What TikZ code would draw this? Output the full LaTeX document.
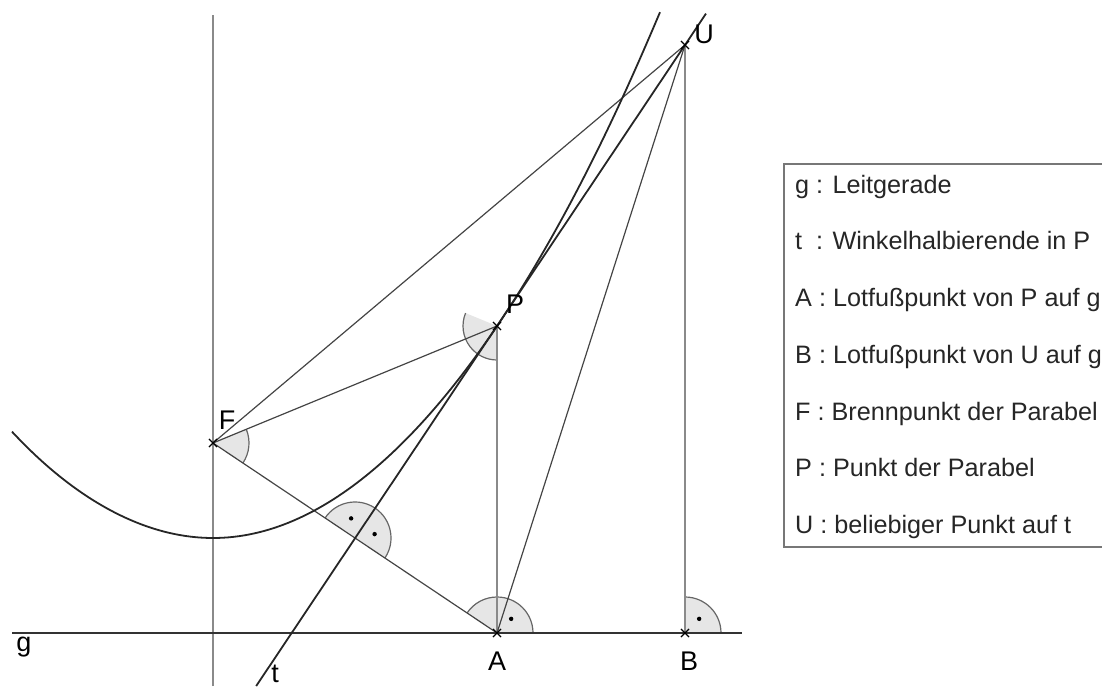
\documentclass[tikz,border=0pt]{standalone}
\usepackage{fontspec}
\setmainfont{Liberation Sans}
\usetikzlibrary{shapes.misc,calc}
\definecolor{anglefillc}{HTML}{E6E6E6}
\definecolor{angleline}{HTML}{666666}
\definecolor{constr}{HTML}{444444}
\definecolor{axisgray}{HTML}{8A8A8A}
\definecolor{boxgray}{HTML}{777777}
\tikzset{
  sector/.style={fill=anglefillc, draw=none},
  sectorarc/.style={draw=angleline, line width=1.2pt},
  rdot/.style={circle, fill=black, inner sep=0pt, minimum size=4.4pt},
  ptmark/.style={cross out, draw=black, line width=1.1pt, minimum size=7pt, inner sep=0pt},
  conline/.style={draw=constr, line width=1.2pt},
  grayline/.style={draw=axisgray, line width=1.4pt},
  mainline/.style={draw=black!85, line width=1.8pt},
  lbl/.style={font=\fontsize{27}{32}\selectfont, inner sep=0pt, anchor=base},
  legend/.style={font=\fontsize{25.2}{30}\selectfont, inner sep=0pt, anchor=base west, text=black!85},
}
\begin{document}
\begin{tikzpicture}[x=1pt,y=1pt]
\useasboundingbox (0,0) rectangle (1102,686);
\clip (0,0) rectangle (1102,686);
% points
\coordinate (F) at (213,243);
\coordinate (P) at (497,360);
\coordinate (A) at (497,53);
\coordinate (B) at (685,53);
\coordinate (U) at (685,641);
\coordinate (M) at (355,148);
\coordinate (gL) at (12,53);
\coordinate (gR) at (742,53);
\coordinate (vB) at (213,0);
\coordinate (vT) at (213,671);
\coordinate (tL) at (256.2,0);
\coordinate (tR) at (706,672.4);
% angle sectors
\fill[sector] (F) -- ++(22.39:36pt) arc[start angle=22.39, end angle=-33.79, radius=36pt] -- cycle;
\draw[sectorarc] (F) ++(22.39:36pt) arc[start angle=22.39, end angle=-33.79, radius=36pt];
\fill[sector] (P) -- ++(157.61:34pt) arc[start angle=157.61, end angle=270, radius=34pt] -- cycle;
\draw[sectorarc] (P) ++(157.61:34pt) arc[start angle=157.61, end angle=270, radius=34pt];
\fill[sector] (M) -- ++(-33.79:36pt) arc[start angle=-33.79, end angle=146.21, radius=36pt] -- cycle;
\draw[sectorarc] (M) ++(-33.79:36pt) arc[start angle=-33.79, end angle=146.21, radius=36pt];
\fill[sector] (A) -- ++(0:36pt) arc[start angle=0, end angle=146.21, radius=36pt] -- cycle;
\draw[sectorarc] (A) ++(0:36pt) arc[start angle=0, end angle=146.21, radius=36pt];
\fill[sector] (B) -- ++(0:36pt) arc[start angle=0, end angle=90, radius=36pt] -- cycle;
\draw[sectorarc] (B) ++(0:36pt) arc[start angle=0, end angle=90, radius=36pt];
\node[rdot] (dM1) at ($(M)+(101.21:20pt)$) {};
\node[rdot] (dM2) at ($(M)+(11.21:20pt)$) {};
\node[rdot] (dA) at ($(A)+(45:20pt)$) {};
\node[rdot] (dB) at ($(B)+(45:20pt)$) {};
% lines
\draw[grayline] (vB) -- (vT);
\draw[draw=black!80, line width=1.9pt] (gL) -- (gR);
\draw[grayline] (P) -- (A);
\draw[grayline] (U) -- (B);
\draw[conline] (F) -- (U);
\draw[conline] (F) -- (P);
\draw[conline] (F) -- (A);
\draw[conline] (U) -- (A);
\draw[mainline] (tL) -- (tR);
\draw[mainline] (12,254.3) parabola bend (213,148) (660,673.8);
% point markers
\node[ptmark] (mF) at (F) {};
\node[ptmark] (mP) at (P) {};
\node[ptmark] (mA) at (A) {};
\node[ptmark] (mB) at (B) {};
\node[ptmark] (mU) at (U) {};
% labels
\node[lbl] (lF) at (227,257) {F};
\node[lbl] (lP) at (515,372) {P};
\node[lbl] (lU) at (704,642) {U};
\node[lbl] (lA) at (497,16) {A};
\node[lbl] (lB) at (689,16) {B};
\node[lbl] (lg) at (24,35) {g};
\node[lbl] (lt) at (275,4) {t};
% legend
\draw[draw=boxgray, line width=1.5pt] (784,139) rectangle (1130,522);
\node[legend] (L1) at (795,492.7) {g : Leitgerade};
\node[legend] (L2) at (795,436) {t\ \ : Winkelhalbierende in P};
\node[legend] (L3) at (795,379.3) {A : Lotfußpunkt von P auf g};
\node[legend] (L4) at (795,322.7) {B : Lotfußpunkt von U auf g};
\node[legend] (L5) at (795,266) {F : Brennpunkt der Parabel};
\node[legend] (L6) at (795,209.3) {P : Punkt der Parabel};
\node[legend] (L7) at (795,152.7) {U : beliebiger Punkt auf t};
\end{tikzpicture}
\end{document}
